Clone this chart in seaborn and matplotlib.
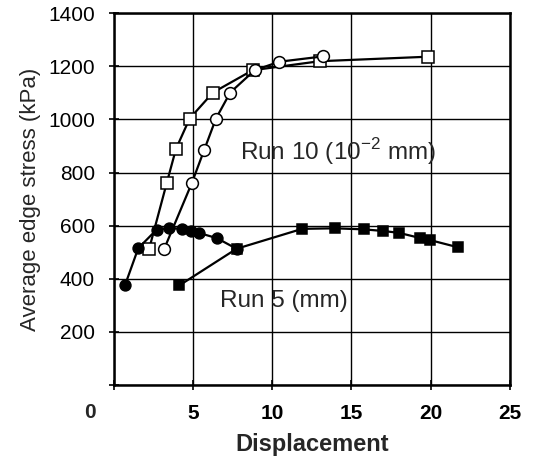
import numpy as np
import pandas as pd
import matplotlib
matplotlib.use("Agg")
import matplotlib.pyplot as plt
import seaborn as sns

# Run 10, open squares (displacement in 10^-2 mm)
sq_open_x = [2.24, 3.35, 3.94, 4.80, 6.27, 8.77, 13.0, 19.85]
sq_open_y = [511, 759, 889, 1003, 1101, 1185, 1219, 1236]

# Run 10, open circles
ci_open_x = [3.2, 4.93, 5.72, 6.46, 7.36, 8.9, 10.45, 13.2]
ci_open_y = [513, 759, 885, 1003, 1101, 1185, 1217, 1237]

# Run 5, filled circles (displacement in mm)
ci_fill_x = [0.72, 1.56, 2.72, 3.52, 4.30, 4.88, 5.42, 6.52, 7.76]
ci_fill_y = [375, 515, 585, 591, 588, 579, 572, 553, 513]

# Run 5, filled squares
sq_fill_x = [4.15, 7.76, 11.9, 13.96, 15.8, 17.0, 18.0, 19.3, 19.94, 21.7]
sq_fill_y = [375, 513, 588, 590, 586, 580, 573, 554, 546, 519]

x_ticks = [0, 5, 10, 15, 20, 25]
y_ticks = [200, 400, 600, 800, 1000, 1200, 1400]

sns.set_style("white")
plt.rcParams['font.family'] = ['Liberation Sans', 'DejaVu Sans']
plt.rcParams['mathtext.fontset'] = 'custom'
plt.rcParams['mathtext.rm'] = 'Liberation Sans'

fig = plt.figure(figsize=(5.39, 4.69), dpi=100)
ax = fig.add_axes([0.2106, 0.179, 0.7354, 0.793])

series = [
    (sq_open_x, sq_open_y, 's', 'white', 8.5),
    (ci_open_x, ci_open_y, 'o', 'white', 8.5),
    (sq_fill_x, sq_fill_y, 's', 'black', 7.8),
    (ci_fill_x, ci_fill_y, 'o', 'black', 7.8),
]
for xs, ys, mk, fc, ms in series:
    d = pd.DataFrame({"x": xs, "y": ys})
    sns.lineplot(data=d, x="x", y="y", ax=ax, sort=False, color='black',
                 linewidth=1.6, marker=mk, markersize=ms,
                 markerfacecolor=fc, markeredgecolor='black',
                 markeredgewidth=1.1, zorder=3)

ax.set_xlim(0, 25)
ax.set_ylim(0, 1400)
ax.set_xticks(x_ticks)
ax.set_yticks([0] + y_ticks)
# the "0" is drawn separately, left of the corner as in the original
ax.set_xticklabels([''] + [str(v) for v in x_ticks[1:]], fontsize=15, fontweight='bold')
ax.set_yticklabels([''] + [str(v) for v in y_ticks], fontsize=15)
ax.annotate("0", xy=(0, 0), xycoords='axes fraction', xytext=(-17, -20),
            textcoords='offset points', ha='center', va='center',
            fontsize=15, fontweight='bold')

ax.grid(True, color='black', linewidth=1.0)
ax.set_axisbelow(True)
for s in ax.spines.values():
    s.set_color('black')
    s.set_linewidth(1.8)
ax.tick_params(axis='both', direction='inout', length=7, width=1.2,
               color='black', pad=10, labelcolor='black')
ax.tick_params(axis='x', bottom=True)
ax.tick_params(axis='y', left=True)

ax.set_xlabel("Displacement", fontsize=17, fontweight='bold', labelpad=7)
ax.set_ylabel("Average edge stress (kPa)", fontsize=16, labelpad=5)

ax.text(7.95, 880, "Run 10 (10$^{\\mathregular{-2}}$ mm)", fontsize=17.5,
        va='center', ha='left')
ax.text(6.7, 318, "Run 5 (mm)", fontsize=17.5, va='center', ha='left')

fig.savefig("out.png", dpi=100)
